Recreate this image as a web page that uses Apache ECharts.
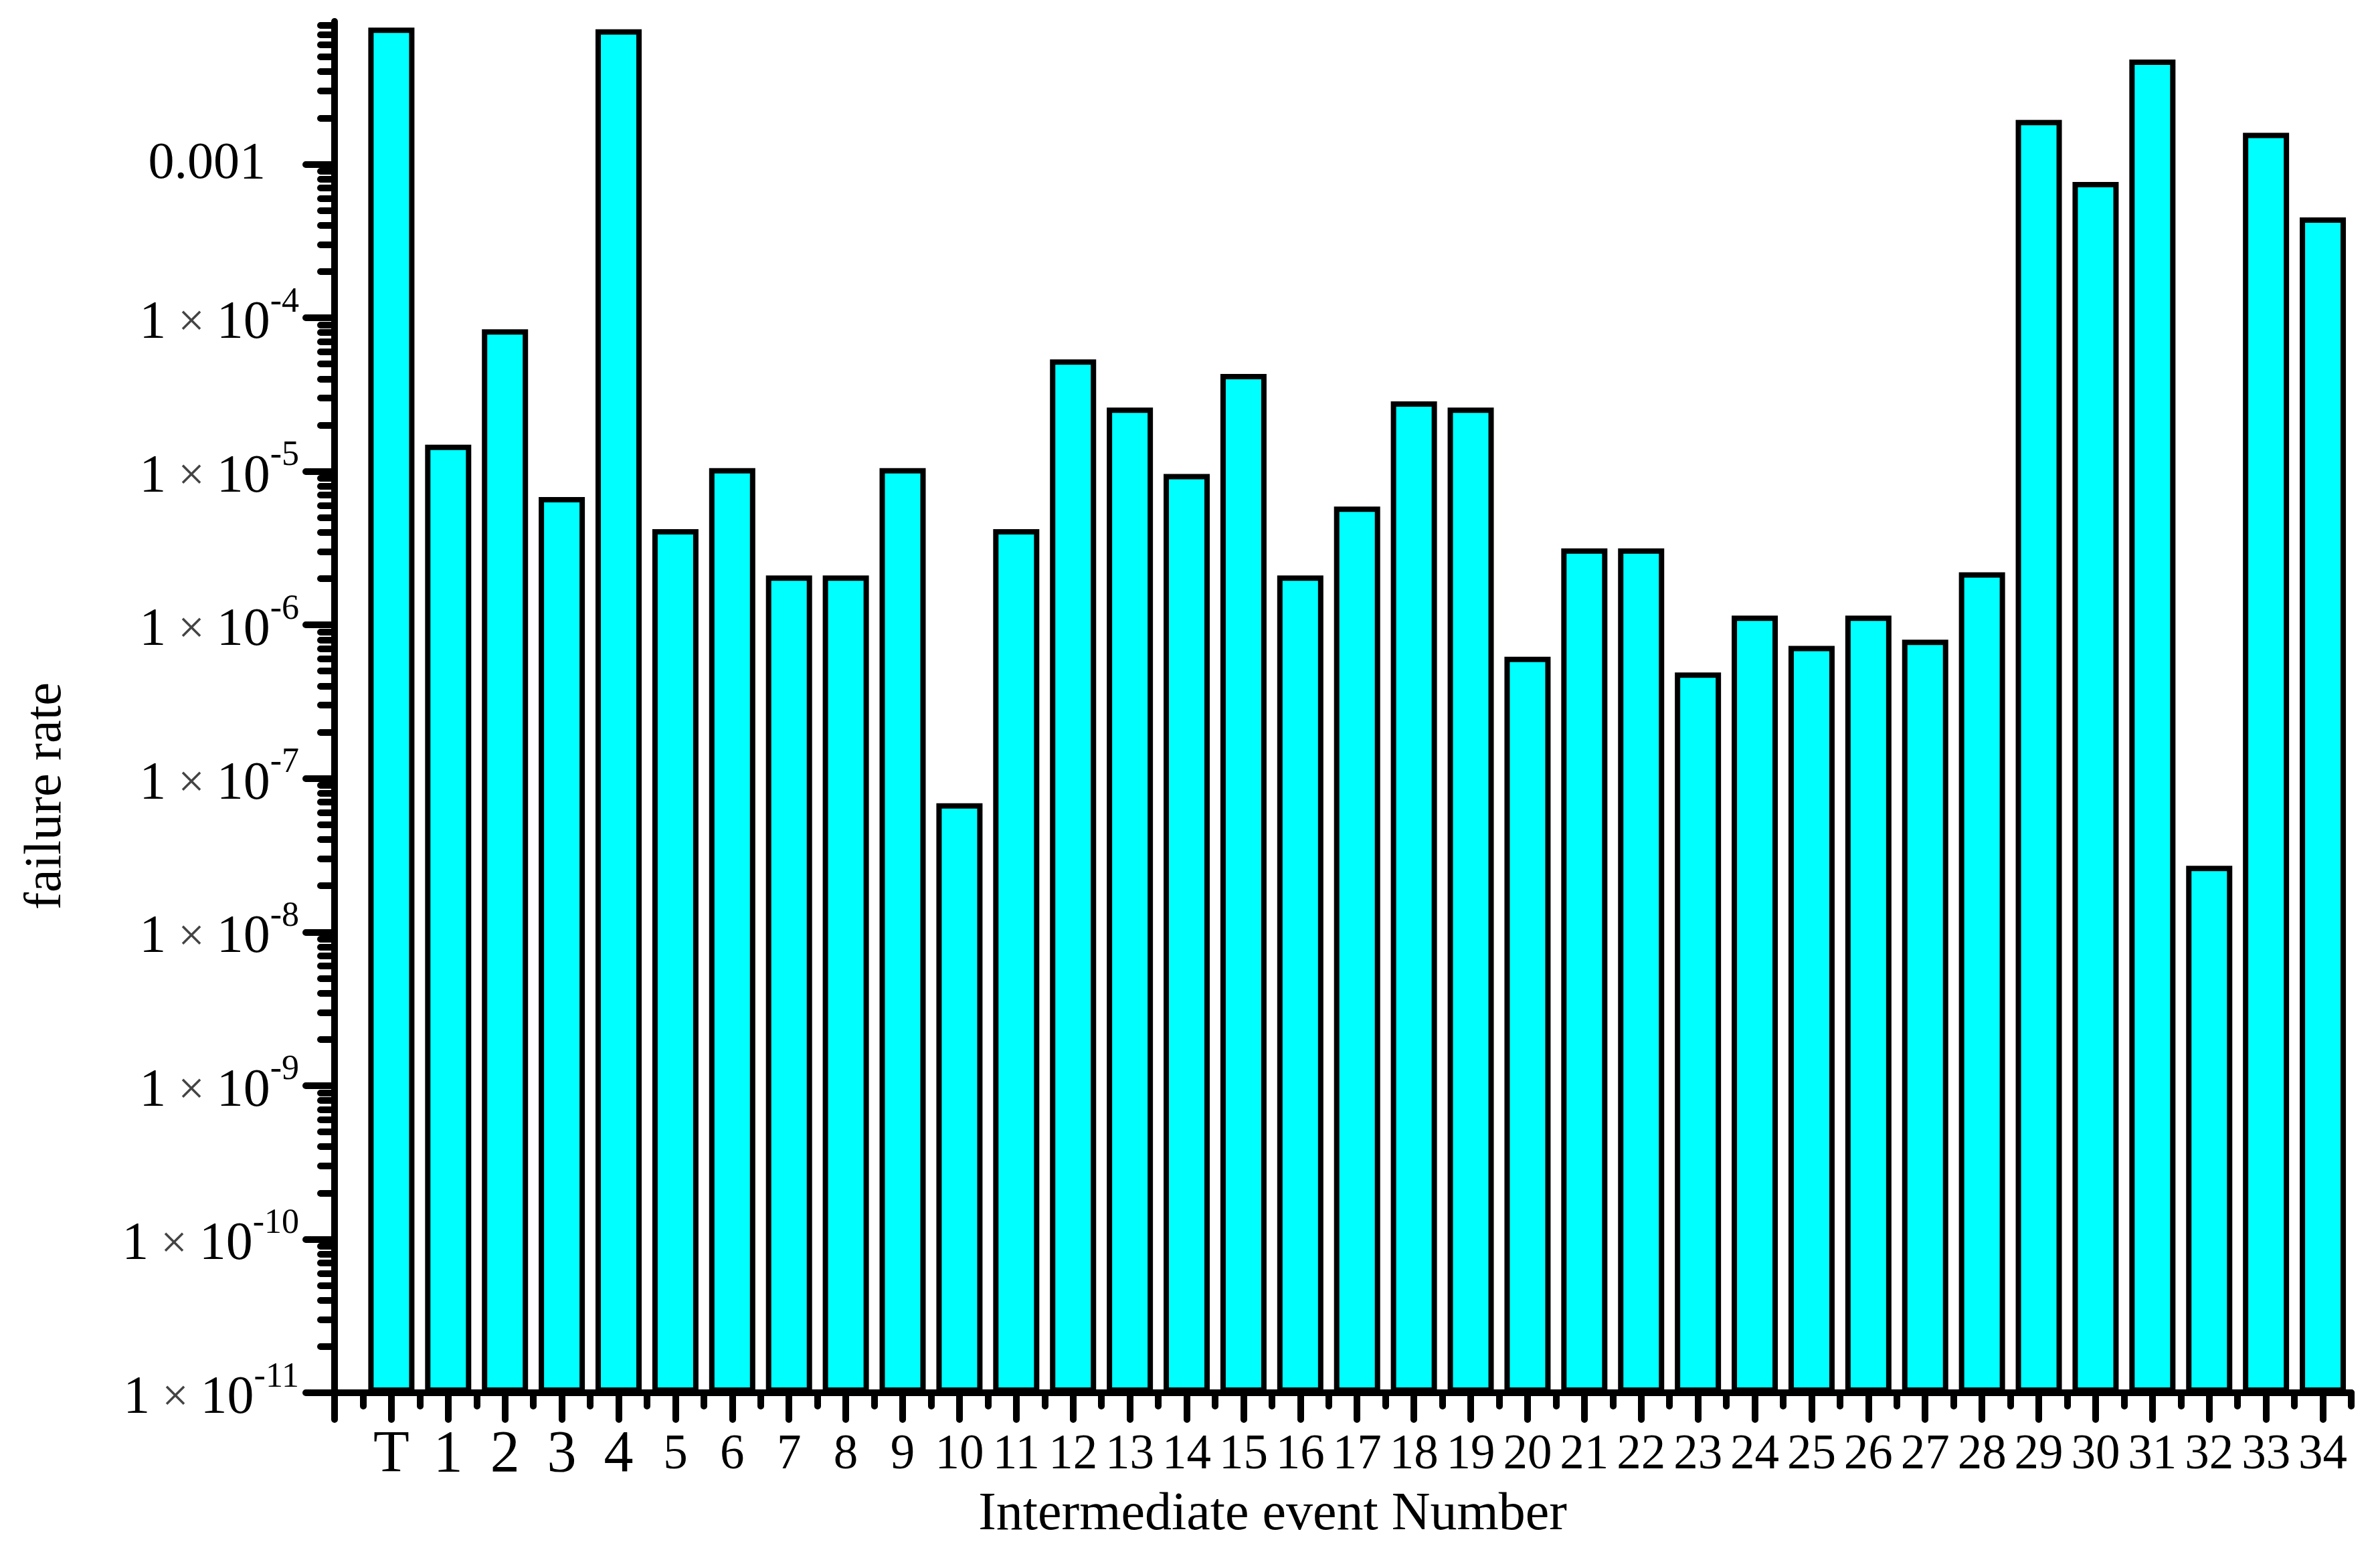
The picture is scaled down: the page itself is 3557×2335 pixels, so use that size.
<!DOCTYPE html>
<html>
<head>
<meta charset="utf-8">
<script src="https://cdn.jsdelivr.net/npm/echarts@6/dist/echarts.min.js"></script>
<style>
  html, body { margin: 0; padding: 0; background: #fff; }
  #failure-rate { width: 3557px; height: 2335px; }
</style>
</head>
<body>
<div id="failure-rate"></div>
<script>
// event names on the x axis (T = top event)
const categories = ["T", "1", "2", "3", "4", "5", "6", "7", "8", "9", "10", "11", "12", "13", "14", "15", "16", "17",
  "18", "19", "20", "21", "22", "23", "24", "25", "26", "27", "28", "29", "30", "31", "32", "33", "34"];
// failure rate per event
const failureRate = [7.75e-3, 1.49e-5, 8.4e-5, 6.8e-6, 7.55e-3, 4.2e-6, 1.05e-5, 2.1e-6, 2.1e-6, 1.05e-5,
  6.9e-8, 4.2e-6, 5.35e-5, 2.6e-5, 9.6e-6, 4.3e-5, 2.1e-6, 5.9e-6, 2.85e-5, 2.6e-5,
  6.2e-7, 3.15e-6, 3.15e-6, 4.9e-7, 1.15e-6, 7.3e-7, 1.15e-6, 8.0e-7, 2.2e-6, 1.94e-3,
  7.65e-4, 4.8e-3, 2.7e-8, 1.6e-3, 4.5e-4];
// y tick labels (decades)
const yMajorTicks = [1e-11, 1e-10, 1e-9, 1e-8, 1e-7, 1e-6, 1e-5, 1e-4, 1e-3];

const yMin = 1e-11;
const yMax = 0.0085;
const xMax = categories.length + 0.5;

// minor log ticks 2..9 in every decade
const yMinorTicks = [];
for (let e = -11; e <= -3; e++) {
  for (let m = 2; m <= 9; m++) {
    const v = m * Math.pow(10, e);
    if (v <= yMax) yMinorTicks.push(v);
  }
}
// long ticks at the bars, short ones between them
const xMajorTicks = [];
const xMinorTicks = [];
for (let i = 0; i <= categories.length; i++) {
  xMajorTicks.push(i);
  xMinorTicks.push(i + 0.5);
}
const xLabelTicks = categories.map((c, i) => i + 1);

const font = '"Liberation Serif", "Times New Roman", serif';
var myChart = echarts.init(document.getElementById("failure-rate"));

var option = {
  animation: false,
  backgroundColor: "#fff",
  textStyle: { fontFamily: font, color: "#000" },
  grid: {
    left: 500,
    right: 43,
    top: 32,
    bottom: 253,
    containLabel: false,
    outerBoundsMode: "none",
  },
  xAxis: [
    {
      type: "value",
      min: 0,
      max: xMax,
      position: "bottom",
      name: "Intermediate event Number",
      nameLocation: "middle",
      nameGap: 142,
      nameTextStyle: {
        fontFamily: font,
        fontSize: 80,
        color: "#000",
        padding: [0, 210, 0, 0],
      },
      axisLine: { show: true, lineStyle: { color: "#000", width: 10 } },
      axisTick: {
        show: true,
        customValues: xMajorTicks,
        length: 40,
        lineStyle: { color: "#000", width: 10, cap: "round" },
      },
      axisLabel: {
        customValues: xLabelTicks,
        margin: 44,
        formatter: function (v) {
          const i = Math.round(v) - 1;
          const c = categories[i];
          if (c === undefined) return "";
          return i < 5 ? "{big|" + c + "}" : "{small|" + c + "}";
        },
        rich: {
          big: { fontFamily: font, fontSize: 88, lineHeight: 100, color: "#000" },
          small: { fontFamily: font, fontSize: 73, lineHeight: 100, color: "#000" },
        },
      },
      splitLine: { show: false },
    },
    {
      type: "value",
      min: 0,
      max: xMax,
      position: "bottom",
      offset: 0,
      axisLine: { show: false },
      axisTick: {
        show: true,
        customValues: xMinorTicks,
        length: 20,
        lineStyle: { color: "#000", width: 10, cap: "round" },
      },
      axisLabel: { show: false },
      splitLine: { show: false },
    },
  ],
  yAxis: [
    {
      type: "log",
      logBase: 10,
      min: yMin,
      max: yMax,
      startValue: yMin,
      position: "left",
      name: "failure rate",
      nameLocation: "middle",
      nameRotate: 90,
      nameGap: 391,
      nameTextStyle: {
        fontFamily: font,
        fontSize: 78,
        color: "#000",
        padding: [0, 266, 0, 0],
      },
      axisLine: { show: true, lineStyle: { color: "#000", width: 10 } },
      axisTick: {
        show: true,
        customValues: yMajorTicks,
        length: 43,
        lineStyle: { color: "#000", width: 10, cap: "round" },
      },
      axisLabel: {
        customValues: yMajorTicks,
        margin: 53,
        formatter: function (v) {
          const e = Math.round(Math.log10(v));
          if (e === -3) return "{d|0.001}";
          return "{m|1}{x|×}{m|10}{s|" + e + "}";
        },
        rich: {
          d: { fontFamily: font, fontSize: 78, color: "#000", padding: [0, 50, 0, 0] },
          m: { fontFamily: font, fontSize: 80, color: "#000", padding: [18, 0, 0, 0] },
          x: { fontFamily: font, fontSize: 70, color: "#444", padding: [18, 18, 0, 18] },
          s: { fontFamily: font, fontSize: 52, color: "#000", verticalAlign: "top" },
        },
      },
      splitLine: { show: false },
      minorTick: { show: false },
    },
    {
      type: "log",
      logBase: 10,
      min: yMin,
      max: yMax,
      position: "left",
      offset: 0,
      axisLine: { show: false },
      axisTick: {
        show: true,
        customValues: yMinorTicks,
        length: 21,
        lineStyle: { color: "#000", width: 10, cap: "round" },
      },
      axisLabel: { show: false },
      splitLine: { show: false },
    },
  ],
  series: [
    {
      name: "failure rate",
      type: "bar",
      xAxisIndex: 0,
      yAxisIndex: 0,
      barWidth: 69,
      itemStyle: {
        color: "#00FFFF",
        borderColor: "#000",
        borderWidth: 8,
      },
      data: failureRate.map((v, i) => [i + 1, v]),
    },
  ],
};
myChart.setOption(option);
</script>
</body>
</html>
